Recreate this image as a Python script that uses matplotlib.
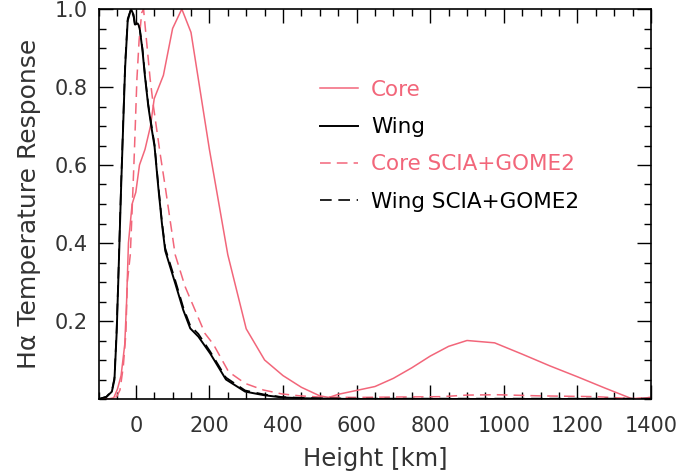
import matplotlib
matplotlib.use("Agg")
import matplotlib.pyplot as plt
from matplotlib.ticker import MultipleLocator, FixedLocator

PINK = "#F2667A"

core_x = [-100, -75, -60, -50, -40, -30, -25, -20, -10, 0, 10, 25, 40, 50, 75, 100, 125,
          150, 200, 250, 300, 350, 400, 450, 500, 525, 550, 600, 650, 700, 750, 800, 850,
          900, 975, 1050, 1125, 1200, 1275, 1350, 1400]
core_y = [0.0, 0.0, 0.003, 0.025, 0.06, 0.14, 0.25, 0.40, 0.50, 0.53, 0.60, 0.64, 0.70,
          0.77, 0.83, 0.95, 1.0, 0.94, 0.64, 0.37, 0.18, 0.10, 0.06, 0.03, 0.008, 0.004,
          0.012, 0.022, 0.032, 0.053, 0.08, 0.11, 0.135, 0.15, 0.144, 0.115, 0.085, 0.057,
          0.028, 0.0, 0.004]

wing_x = [-100, -80, -65, -58, -52, -47, -40, -34, -29, -22, -13, -6, -2, 5, 10, 18, 25,
          34, 43, 51, 61, 71, 80, 107, 129, 148, 170, 202, 245, 297, 347, 397, 450, 500,
          600, 800, 1000, 1200, 1400]
wing_y = [0.0, 0.005, 0.019, 0.05, 0.17, 0.32, 0.54, 0.71, 0.85, 0.97, 1.0, 0.985, 0.96,
          0.963, 0.955, 0.895, 0.826, 0.75, 0.694, 0.647, 0.544, 0.45, 0.38, 0.297, 0.228,
          0.181, 0.16, 0.117, 0.05, 0.019, 0.01, 0.004, 0.002, 0.001, 0.0, 0.0, 0.0, 0.0, 0.0]

cores_x = [-100, -65, -52, -43, -34, -27, -23, -15, -11, -4, 3, 9, 16, 21, 30, 39, 48,
           57, 66, 80, 93, 107, 134, 161, 188, 211, 252, 297, 347, 397, 447, 500, 600,
           700, 830, 900, 980, 1100, 1250, 1350, 1400]
cores_y = [0.0, 0.0, 0.006, 0.023, 0.083, 0.168, 0.30, 0.37, 0.46, 0.63, 0.82, 0.92,
           0.99, 1.0, 0.91, 0.82, 0.75, 0.69, 0.63, 0.544, 0.46, 0.37, 0.288, 0.228,
           0.168, 0.14, 0.07, 0.04, 0.023, 0.013, 0.008, 0.005, 0.004, 0.005, 0.006,
           0.01, 0.011, 0.008, 0.006, 0.001, 0.004]

wings_x = [-100, -80, -65, -58, -52, -47, -40, -34, -29, -22, -13, -6, -2, 5, 10, 18, 25,
           34, 43, 51, 61, 71, 80, 107, 129, 148, 170, 202, 245, 297, 347, 397, 450, 500,
           600, 800, 1000, 1200, 1400]
wings_y = [0.0, 0.006, 0.021, 0.055, 0.18, 0.33, 0.55, 0.72, 0.86, 0.975, 1.0, 0.98, 0.955,
           0.96, 0.952, 0.90, 0.83, 0.755, 0.70, 0.652, 0.55, 0.455, 0.387, 0.305, 0.235,
           0.188, 0.167, 0.122, 0.055, 0.022, 0.012, 0.005, 0.003, 0.002, 0.001, 0.001,
           0.001, 0.001, 0.001]

labels = ["Core", "Wing", "Core SCIA+GOME2", "Wing SCIA+GOME2"]
xticks = [0, 200, 400, 600, 800, 1000, 1200, 1400]
yticks = [0.2, 0.4, 0.6, 0.8, 1.0]

plt.rcParams["font.family"] = ["DejaVu Sans"]
fig = plt.figure(figsize=(6.8, 4.72), dpi=100)
ax = fig.add_axes([99/680, 73/472, 552/680, 390/472])

dash = (0, (7, 4))
l1, = ax.plot(core_x, core_y, color=PINK, lw=1.1, label=labels[0])
l2, = ax.plot(wing_x, wing_y, color="black", lw=1.4, label=labels[1])
l3, = ax.plot(cores_x, cores_y, color=PINK, lw=1.1, ls=dash, label=labels[2])
l4, = ax.plot(wings_x, wings_y, color="black", lw=1.2, ls=dash, label=labels[3])

ax.set_xlim(-100, 1400)
ax.set_ylim(0, 1.0)
ax.xaxis.set_major_locator(FixedLocator(xticks))
ax.yaxis.set_major_locator(FixedLocator(yticks))
ax.xaxis.set_minor_locator(MultipleLocator(50))
ax.yaxis.set_minor_locator(MultipleLocator(0.05))
ax.tick_params(which="both", direction="in", top=True, right=True, labelsize=15,
               width=1.0, colors="black")
ax.tick_params(which="major", length=10)
ax.tick_params(which="minor", length=5)
ax.tick_params(axis="x", which="major", pad=12, labelcolor="#333333")
ax.tick_params(axis="y", which="major", pad=8, labelcolor="#333333")
for s in ax.spines.values():
    s.set_linewidth(1.2)
ax.set_xlabel("Height [km]", fontsize=17.5, color="#333333", labelpad=8)
ax.set_ylabel("H\u03b1 Temperature Response", fontsize=18, color="#333333", labelpad=10)

ax.legend(handles=[l1, l2, l3, l4], loc="upper left", bbox_to_anchor=(0.385, 0.841),
          frameon=False, fontsize=15.5, labelcolor="linecolor", handlelength=1.77,
          handletextpad=0.6, labelspacing=0.81, borderaxespad=0)

fig.savefig("out.png", dpi=100)
